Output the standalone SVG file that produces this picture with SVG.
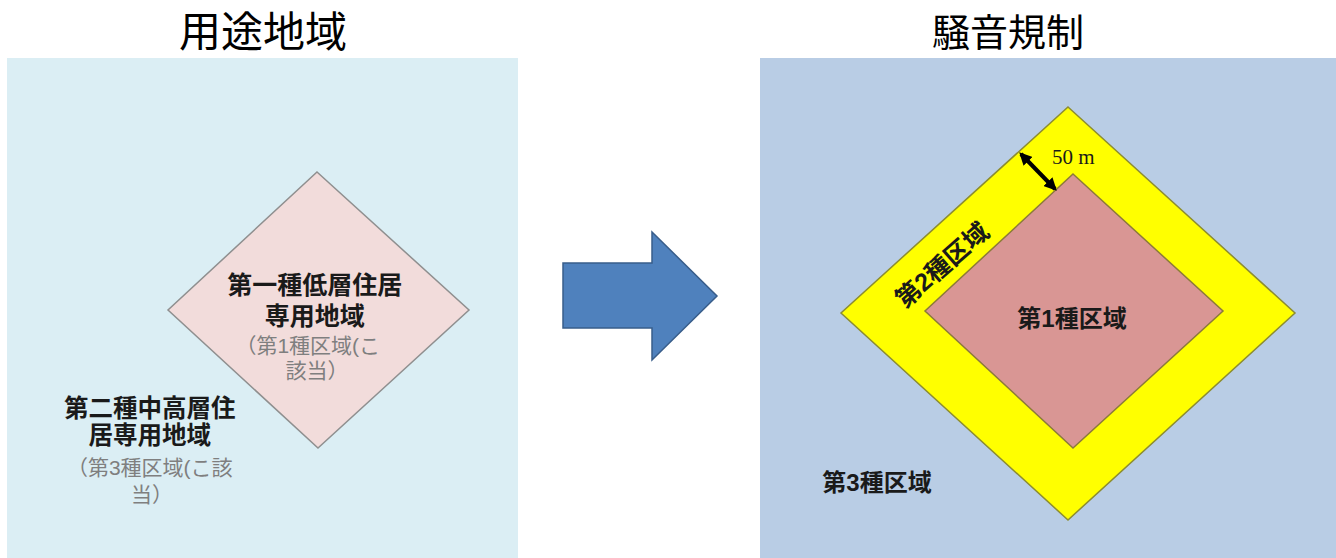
<svg xmlns="http://www.w3.org/2000/svg" width="1336" height="558" viewBox="0 0 1336 558">
<defs>
<style>
.title{font-family:"Noto Sans CJK JP","Liberation Sans",sans-serif;fill:#000;text-anchor:middle}
.t{font-family:"Liberation Sans","Noto Sans CJK JP",sans-serif;text-anchor:middle;dominant-baseline:central}
.b{font-weight:bold;fill:#1a1a1a}
.g{font-weight:normal;fill:#7f7f7f}
</style>
<marker id="ah" viewBox="0 0 10 10" refX="8" refY="5" markerWidth="3.2" markerHeight="3.2" orient="auto-start-reverse">
<path d="M0,0 L10,5 L0,10 z" fill="#000"/>
</marker>
</defs>
<rect width="1336" height="558" fill="#fff"/>
<g id="title-left"><text class="title" font-size="42" x="263" y="47">用途地域</text></g>
<g id="title-right"><text class="title" font-size="38" x="1008" y="46">騒音規制</text></g>
<g id="panel-left">
<rect x="7" y="58" width="511" height="500" fill="#DBEEF4"/>
<text class="t">
<tspan class="b" font-size="24.5" x="152" y="408">第二種中高層住</tspan>
<tspan class="b" font-size="24.5" x="152" y="435">居専用地域</tspan>
<tspan class="g" font-size="21" x="152" y="467">（第3種区域(こ該</tspan>
<tspan class="g" font-size="21" x="152" y="494">当）</tspan>
</text>
</g>
<g id="diamond-left">
<polygon points="317,172 469,310 318,448 168,310" fill="#F2DCDB" stroke="#8f8f8f" stroke-width="1.5"/>
<text class="t">
<tspan class="b" font-size="25" x="317" y="285">第一種低層住居</tspan>
<tspan class="b" font-size="25" x="317" y="316">専用地域</tspan>
<tspan class="g" font-size="21" x="310" y="345">（第1種区域(こ</tspan>
<tspan class="g" font-size="21" x="317" y="370">該当）</tspan>
</text>
</g>
<g id="arrow">
<polygon points="563,263 652,263 652,232 717,296 652,360 652,328 563,328" fill="#4F81BD" stroke="#385D8A" stroke-width="1.5"/>
</g>
<g id="panel-right">
<rect x="760" y="58" width="576" height="500" fill="#B9CDE5"/>
<text class="t b" font-size="24" x="877" y="482">第3種区域</text>
</g>
<g id="zone2">
<polygon points="1068,107 1295,313 1068,520 841,313" fill="#FFFF00" stroke="#8C8C30" stroke-width="1.5"/>
<text class="t b" font-size="25" x="942" y="265" transform="rotate(-41 942 265)">第2種区域</text>
</g>
<g id="zone1">
<polygon points="1073,174 1223,311 1073,448 925,311" fill="#D99694" stroke="#8C7A3A" stroke-width="1.5"/>
<text class="t b" font-size="24" x="1072" y="318">第1種区域</text>
</g>
<g id="connectors">
<line x1="1021" y1="154" x2="1055" y2="189" stroke="#000" stroke-width="4" marker-start="url(#ah)" marker-end="url(#ah)"/>
<text x="1052" y="164" font-family="Liberation Serif, serif" font-size="21" fill="#1a1a1a">50 m</text>
</g>
</svg>
